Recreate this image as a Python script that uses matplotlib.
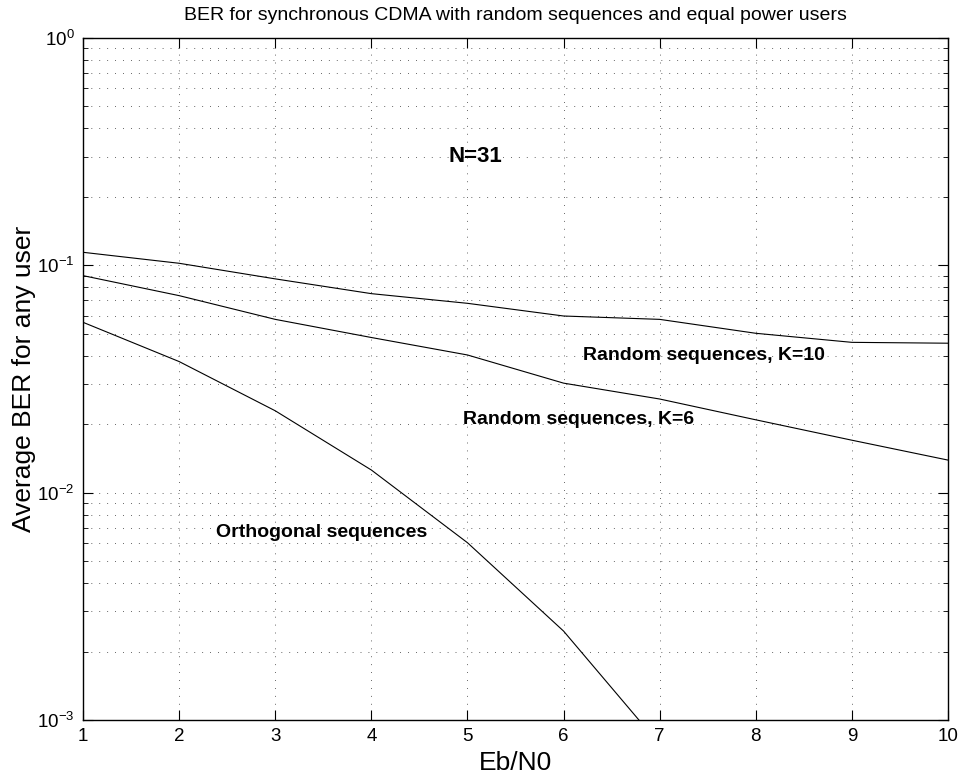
import matplotlib
matplotlib.use('Agg')
import matplotlib.pyplot as plt
from matplotlib.ticker import LogLocator, FixedLocator, NullFormatter

plt.rcParams['font.family'] = ['Liberation Sans', 'DejaVu Sans']
plt.rcParams['mathtext.fontset'] = 'custom'
plt.rcParams['mathtext.rm'] = 'Liberation Sans'
plt.rcParams['mathtext.it'] = 'Liberation Sans:italic'
plt.rcParams['mathtext.bf'] = 'Liberation Sans:bold'

# Eb/N0 values
ebno = [1, 2, 3, 4, 5, 6, 7, 8, 9, 10]

# BER
ber_k10 = [0.114, 0.102, 0.0871, 0.0750, 0.0680, 0.0598, 0.0578, 0.0502, 0.0458, 0.0454]
ber_k6 = [0.090, 0.0735, 0.0578, 0.0481, 0.0403, 0.0303, 0.0258, 0.0209, 0.0170, 0.0139]
ber_orth = [0.0561, 0.0377, 0.0229, 0.01257, 0.00602, 0.00246, 0.00078]
ebno_orth = ebno[:len(ber_orth)]

fig = plt.figure(figsize=(9.6, 7.76), dpi=100)
ax = fig.add_axes([0.0865, 0.0722, 0.901, 0.879])

for ber, xs in [(ber_k10, ebno), (ber_k6, ebno), (ber_orth, ebno_orth)]:
    ax.semilogy(xs, ber, color='black', linewidth=0.8)

ax.set_xlim(1, 10)
ax.set_ylim(1e-3, 1)
ax.xaxis.set_major_locator(FixedLocator(ebno))
ax.yaxis.set_major_locator(LogLocator(base=10, numticks=10))
ax.yaxis.set_minor_locator(LogLocator(base=10, subs=range(2, 10), numticks=20))
ax.yaxis.set_minor_formatter(NullFormatter())

ax.tick_params(which='both', direction='in', top=True, right=True, labelsize=13.5, pad=6)
ax.tick_params(which='major', length=7, width=0.8)
ax.tick_params(which='minor', length=3.5, width=0.6)
dots = (0, (1, 8.5))
ax.grid(which='major', axis='both', linestyle=dots, color='#333333', linewidth=0.6)
ax.grid(which='minor', axis='y', linestyle=dots, color='#333333', linewidth=0.6)
for sp in ax.spines.values():
    sp.set_linewidth(1.0)

ax.set_title('BER for synchronous CDMA with random sequences and equal power users',
             fontsize=14, pad=13)
ax.set_xlabel('Eb/N0', fontsize=19, labelpad=4)
ax.set_ylabel('Average BER for any user', fontsize=19, labelpad=1)

ax.text(4.8, 0.30, 'N=31', fontsize=16, fontweight='bold', va='center')
ax.text(6.2, 0.040, 'Random sequences, K=10', fontsize=14, fontweight='bold', va='center')
ax.text(4.95, 0.021, 'Random sequences, K=6', fontsize=14, fontweight='bold', va='center')
ax.text(2.38, 0.0067, 'Orthogonal sequences', fontsize=14, fontweight='bold', va='center')

fig.savefig('out.png', dpi=100)
